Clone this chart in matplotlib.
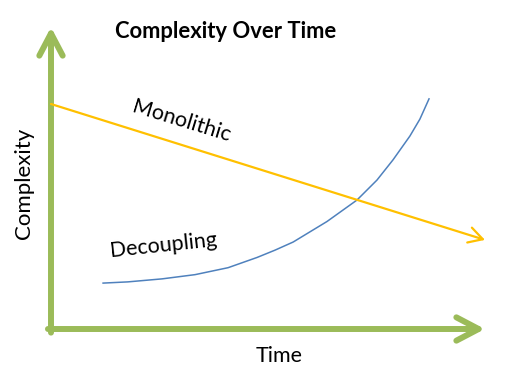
import matplotlib
matplotlib.use("Agg")
import matplotlib.pyplot as plt

# conceptual chart, units 0..10 on both axes
mono_x = [0.0, 10.0]
mono_y = [7.45, 2.95]

decoup_x = [1.20, 1.77, 2.56, 3.32, 4.08, 4.75, 5.16, 5.58, 6.36, 7.05, 7.51, 7.88, 8.27, 8.50, 8.71]
decoup_y = [1.52, 1.56, 1.66, 1.80, 2.03, 2.37, 2.61, 2.88, 3.56, 4.27, 4.93, 5.60, 6.39, 6.95, 7.62]

title = "Complexity Over Time"
xlabel = "Time"
ylabel = "Complexity"

green = "#9BBB59"
yellow = "#FFC000"
blue = "#4F81BD"

plt.rcParams['font.family'] = ['Lato', 'DejaVu Sans']

fig = plt.figure(figsize=(5.12, 3.85), dpi=100)
ax = fig.add_axes([51 / 512, (385 - 329) / 385, 434 / 512, 302 / 385])
ax.set_xlim(0, 10)
ax.set_ylim(0, 10)
ax.axis('off')

# green axes with open arrow heads
axis_arrow = dict(arrowstyle='->,head_length=0.8,head_width=0.42', color=green,
                  lw=4.3, shrinkA=0, shrinkB=0, mutation_scale=20,
                  capstyle='round', joinstyle='round')
ax.annotate('', xy=(0, 10), xytext=(0, -0.12), arrowprops=axis_arrow, annotation_clip=False)
ax.annotate('', xy=(10, 0), xytext=(-0.07, 0), arrowprops=axis_arrow, annotation_clip=False)

# monolithic line with arrow
ax.annotate('', xy=(mono_x[1], mono_y[1]), xytext=(mono_x[0], mono_y[0]),
            arrowprops=dict(arrowstyle='->,head_length=0.5,head_width=0.28', color=yellow,
                            lw=1.6, shrinkA=0, shrinkB=0, mutation_scale=20),
            annotation_clip=False)

# decoupling curve
ax.plot(decoup_x, decoup_y, color=blue, lw=1.1, clip_on=False,
        solid_joinstyle='round', antialiased=True)

ax.text(3.0, 6.89, "Monolithic", rotation=-17, fontsize=15.5, ha='center', va='center',
        rotation_mode='anchor')
ax.text(2.6, 2.78, "Decoupling", rotation=6, fontsize=15.5, ha='center', va='center',
        rotation_mode='anchor')

fig.text(0.047, 0.524, ylabel, rotation=90, fontsize=16, ha='center', va='center')
fig.text(0.545, 0.075, xlabel, fontsize=15.5, ha='center', va='center')
fig.text(0.441, 0.919, title, fontsize=15.8, fontweight='bold', ha='center', va='center')

fig.savefig('out.png', dpi=100)
